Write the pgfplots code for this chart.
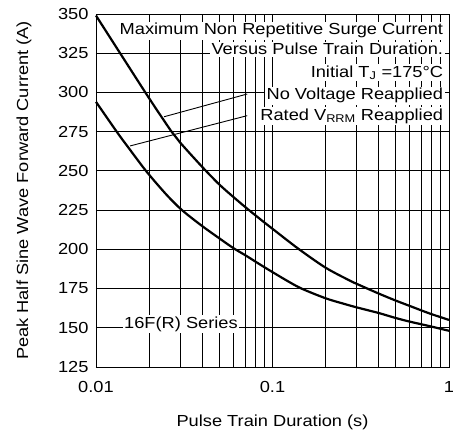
\documentclass[border=0pt]{standalone}
\usepackage{fontspec}
\setmainfont{Liberation Sans}[FakeStretch=1.14]
\usepackage{pgfplots}
\pgfplotsset{compat=1.18}
\usetikzlibrary{calc}

\begin{document}
\fontsize{16bp}{19bp}\selectfont
\begin{tikzpicture}
\begin{axis}[
    scale only axis,
    width=353bp, height=353bp,
    xmode=log,
    xmin=0.01, xmax=1,
    ymin=125, ymax=350,
    xtick={0.01,0.1,1},
    xticklabels={0.01,0.1,1},
    ytick={125,150,175,200,225,250,275,300,325,350},
    yticklabels={125,150,175,200,225,250,275,300,325,350},
    xticklabel style={yshift=-9bp},
    yticklabel style={xshift=-2bp},
    grid=both,
    major grid style={black, line width=0.9bp},
    minor grid style={black, line width=0.9bp},
    axis line style={black, line width=0.9bp},
    tick style={draw=none},
    /pgf/number format/assume math mode=true,
    xlabel={Pulse Train Duration (s)},
    ylabel={Peak Half Sine Wave Forward Current (A)},
    xlabel style={at={(axis description cs:0.5,-0.158)}, anchor=center},
    ylabel style={at={(axis description cs:-0.204,0.5)}, anchor=center},
    clip=false,
]

% No Voltage Reapplied
\addplot[black, line width=2.2bp, smooth] coordinates {
    (0.01,349) (0.0137,325) (0.02,296.3) (0.0268,275) (0.03,268)
    (0.04,252.5) (0.05,241.3) (0.06,233.4) (0.07,227.0) (0.08,221.7)
    (0.09,217.1) (0.1,213.1) (0.14,200.4) (0.2,188.3) (0.275,180.0)
    (0.3,178.0) (0.4,171.8) (0.5,167.3) (0.6,163.9) (0.7,161.0)
    (0.8,158.6) (0.9,156.7) (1,155.0)
};

% Rated VRRM Reapplied
\addplot[black, line width=2.2bp, smooth] coordinates {
    (0.01,294) (0.0131,275) (0.015,266) (0.0192,250) (0.025,235)
    (0.0307,225) (0.04,214.8) (0.05,207) (0.06,200.8) (0.07,196.3)
    (0.08,192.2) (0.09,188.6) (0.1,185.5) (0.12,180.2) (0.146,175)
    (0.2,168.8) (0.25,165.5) (0.3,163) (0.4,159.4) (0.5,156.2)
    (0.6,153.9) (0.7,152.2) (0.8,150.7) (0.9,149.3) (1,148.1)
};

% leader lines
\draw[black, line width=0.9bp] (axis cs:0.0719,299.0) -- (axis cs:0.0243,284.5);
\draw[black, line width=0.9bp] (axis cs:0.0719,285.2) -- (axis cs:0.0156,265.9);

\tikzset{lbl/.style={fill=white, inner sep=1.5bp, anchor=base east}}
\node[lbl] at (rel axis cs:0.988,0.9405) {Maximum Non Repetitive Surge Current};
\node[lbl] at (rel axis cs:0.988,0.8839) {Versus Pulse Train Duration.};
\node[lbl] at (rel axis cs:0.988,0.8215) {Initial T\textsubscript{J} =175°C};
\node[lbl] at (rel axis cs:0.988,0.7564) {No Voltage Reapplied};
\node[lbl] at (rel axis cs:0.988,0.6997) {Rated V\textsubscript{RRM} Reapplied};
\node[fill=white, inner sep=1.5bp] at (axis cs:0.0303,152.4) {16F(R) Series};

\coordinate (bl) at (rel axis cs:0,0);
\coordinate (tr) at (rel axis cs:1,1);
\end{axis}
\pgfresetboundingbox
\path ($(bl)+(-96bp,-63bp)$) rectangle ($(tr)+(4bp,14bp)$);
\end{tikzpicture}
\end{document}
